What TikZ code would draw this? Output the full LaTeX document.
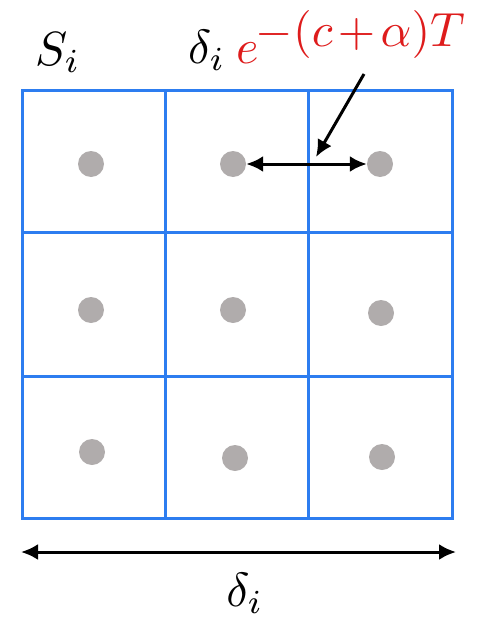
\documentclass[tikz,border=0pt]{standalone}
\usepackage{graphicx}
\usetikzlibrary{arrows.meta}
\definecolor{gridblue}{RGB}{45,125,240}
\definecolor{dotgray}{RGB}{176,172,172}
\definecolor{labred}{RGB}{222,28,28}
\newcommand{\bigtxt}[1]{\scalebox{4.8}{#1}}
\begin{document}
\begin{tikzpicture}[x=1pt,y=-1pt,
  gridline/.style={draw=gridblue,line width=3pt},
  dotnode/.style={circle,fill=dotgray,minimum size=26pt,inner sep=0pt},
  arr/.style={line width=3pt,-{Latex[length=17pt,width=16pt]}},
  darr/.style={line width=3pt,{Latex[length=17pt,width=16pt]}-{Latex[length=17pt,width=16pt]}},
  lab/.style={inner sep=0pt}]
\useasboundingbox (0,0) rectangle (480,621);
% grid
\draw[gridline] (22,90) rectangle (452,518);
\draw[gridline] (165,90) -- (165,518);
\draw[gridline] (308,90) -- (308,518);
\draw[gridline] (22,232) -- (452,232);
\draw[gridline] (22,376) -- (452,376);
% dots
\node[dotnode] (d11) at (91,164) {};
\node[dotnode] (d12) at (233,164) {};
\node[dotnode] (d13) at (380,164) {};
\node[dotnode] (d21) at (91,310) {};
\node[dotnode] (d22) at (233,310) {};
\node[dotnode] (d23) at (381,313) {};
\node[dotnode] (d31) at (92,452) {};
\node[dotnode] (d32) at (235,458) {};
\node[dotnode] (d33) at (382,457) {};
% labels
\node[lab,anchor=base west] (si) at (35,65) {\bigtxt{$S_i$}};
\node[lab,anchor=base west] (dl) at (188,63) {\bigtxt{$\delta_i\mkern4mu{\color{labred}e\raisebox{3.5pt}{$\mkern-1mu-(c\mkern2mu{+}\mkern2mu\alpha)T$}}$}};
\node[lab,anchor=base] (dw) at (245,606) {\bigtxt{$\delta_i$}};
% arrows
\draw[darr] (d12) -- (d13);
\coordinate (ptop) at (364,74);
\coordinate (ptip) at (316,157);
\draw[arr] (ptop) -- (ptip);
\coordinate (bl) at (21,552);
\coordinate (br) at (456,552);
\draw[darr] (bl) -- (br);
\end{tikzpicture}
\end{document}
